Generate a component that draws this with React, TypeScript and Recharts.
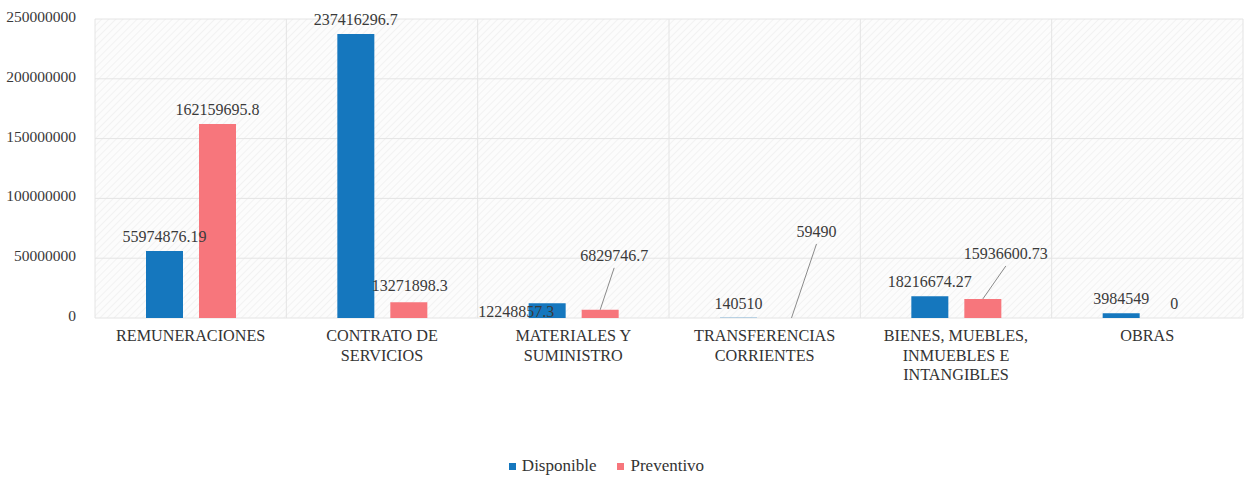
import { BarChart, Bar, XAxis, YAxis, CartesianGrid, Legend, LabelList, Cell } from 'recharts'

const categories = [
  'REMUNERACIONES',
  'CONTRATO DE SERVICIOS',
  'MATERIALES Y SUMINISTRO',
  'TRANSFERENCIAS CORRIENTES',
  'BIENES, MUEBLES, INMUEBLES E INTANGIBLES',
  'OBRAS',
]
const disponible = [55974876.19, 237416296.7, 12248857.3, 140510, 18216674.27, 3984549]
const preventivo = [162159695.8, 13271898.3, 6829746.7, 59490, 15936600.73, 0]
const yTicks = [0, 50000000, 100000000, 150000000, 200000000, 250000000]

const data = categories.map((name, i) => ({ name, disponible: disponible[i], preventivo: preventivo[i] }))

const BLUE = '#1577BE'
const PINK = '#F7767C'
const FONT = '"Liberation Serif", "Times New Roman", "DejaVu Serif", serif'

// hand-placed labels (the source chart moved a few so they don't collide)
const labelNudge: Record<string, { dx: number; dy: number; leader?: boolean }> = {
  'preventivo-1': { dx: 1, dy: -2 },
  'disponible-2': { dx: -31, dy: 23 },
  'preventivo-2': { dx: 14, dy: -40, leader: true },
  'preventivo-3': { dx: 25, dy: -72, leader: true },
  'preventivo-4': { dx: 23, dy: -31, leader: true },
}

const renderLabel = (key: string) => (props: any) => {
  const { x, y, width, height, value, index } = props
  const cx = Number(x) + Number(width) / 2
  // zero-value bars get a 1px invisible stub, anchor their label on the baseline
  const top = value === 0 ? Number(y) + Number(height) : Number(y)
  const n = labelNudge[`${key}-${index}`] || { dx: 0, dy: 0 }
  const lx = cx + n.dx
  const ly = top - 9 + n.dy
  return (
    <g>
      {n.leader && <line x1={cx} y1={top} x2={lx} y2={ly + 7} stroke="#8a8a8a" strokeWidth={1} />}
      <text x={lx} y={ly} textAnchor="middle" fontSize={16} style={{ fontFamily: FONT }} fill="#3a3a3a">
        {String(value)}
      </text>
    </g>
  )
}

const wrapWords = (text: string, max: number) => {
  const lines: string[] = []
  let cur = ''
  text.split(' ').forEach((w) => {
    const next = cur ? `${cur} ${w}` : w
    if (next.length > max && cur) {
      lines.push(cur)
      cur = w
    } else cur = next
  })
  if (cur) lines.push(cur)
  return lines
}

const CategoryTick = (props: any) => {
  const { x, y, payload } = props
  const lines = wrapWords(payload.value, 16)
  return (
    <text x={x} y={y + 1} textAnchor="middle" fontSize={16.2} style={{ fontFamily: FONT }} fill="#333">
      {lines.map((l, i) => (
        <tspan key={i} x={x} dy={i === 0 ? 14 : 19.5}>{l}</tspan>
      ))}
    </text>
  )
}

const ValueTick = (props: any) => {
  const { x, y, payload } = props
  return (
    <text x={x} y={y + 3} textAnchor="end" fontSize={15.5} style={{ fontFamily: FONT }} fill="#3a3a3a">
      {String(payload.value)}
    </text>
  )
}

const LegendBox = ({ payload }: any) => (
  <div
    style={{
      display: 'flex',
      justifyContent: 'center',
      alignItems: 'center',
      gap: 21,
      height: 24,
      paddingRight: 30,
      fontFamily: FONT,
      fontSize: 17,
      color: '#333',
    }}
  >
    {(payload || []).map((p: any) => (
      <div key={p.value} style={{ display: 'flex', alignItems: 'center', gap: 6 }}>
        <span style={{ width: 7, height: 7, background: p.color, display: 'inline-block' }} />
        <span>{p.value}</span>
      </div>
    ))}
  </div>
)

export default function App() {
  return (
    <div style={{ position: 'absolute', left: 0, top: 0, width: 1247, height: 479, background: '#fff', fontFamily: FONT }}>
      <svg width={0} height={0} style={{ position: 'absolute' }}>
        <defs>
          <pattern id="hatch" width={5} height={5} patternUnits="userSpaceOnUse" patternTransform="rotate(45)">
            <rect width={5} height={5} fill="#fcfcfc" />
            <line x1={0} y1={0} x2={0} y2={5} stroke="#efefef" strokeWidth={1.5} />
          </pattern>
        </defs>
      </svg>
      <BarChart
        width={1247}
        height={479}
        data={data}
        margin={{ top: 19, right: 4, left: 0, bottom: 1 }}
        barSize={37}
        barGap={16}
      >
        <CartesianGrid
          stroke="#e4e4e4"
          fill="url(#hatch)"
          verticalCoordinatesGenerator={({ offset }: any) =>
            categories.map((_, i) => offset.left + (offset.width * i) / categories.length).concat(offset.left + offset.width)
          }
        />
        <XAxis dataKey="name" axisLine={false} tickLine={false} interval={0} height={136} tick={<CategoryTick />} />
        <YAxis
          width={95}
          domain={[0, 250000000]}
          ticks={yTicks}
          axisLine={false}
          tickLine={false}
          tickMargin={13}
          tick={<ValueTick />}
        />
        <Legend verticalAlign="bottom" content={<LegendBox />} />
        <Bar dataKey="disponible" name="Disponible" fill={BLUE} isAnimationActive={false}>
          <LabelList dataKey="disponible" content={renderLabel('disponible')} />
        </Bar>
        <Bar
          dataKey="preventivo"
          name="Preventivo"
          fill={PINK}
          minPointSize={(v: number) => (v === 0 ? 1 : 0)}
          isAnimationActive={false}
        >
          {preventivo.map((v, i) => (
            <Cell key={i} fill={PINK} fillOpacity={v === 0 ? 0 : 1} />
          ))}
          <LabelList dataKey="preventivo" content={renderLabel('preventivo')} />
        </Bar>
      </BarChart>
    </div>
  )
}
